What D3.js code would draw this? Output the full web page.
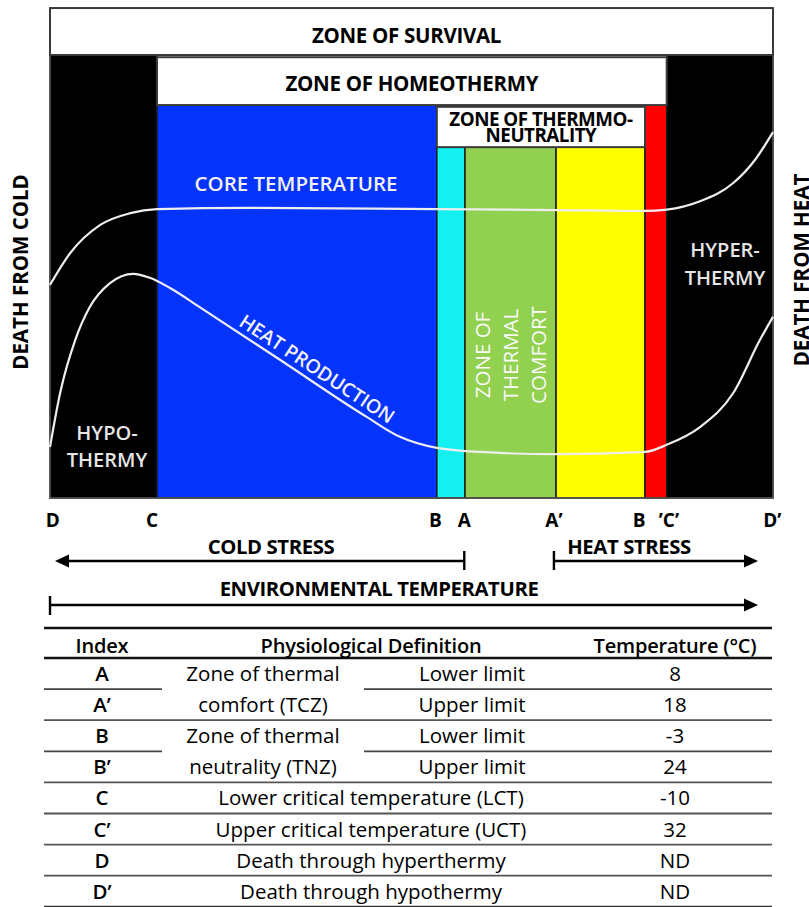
<!DOCTYPE html>
<html>
<head>
<meta charset="utf-8">
<script src="https://cdn.jsdelivr.net/npm/d3@7/dist/d3.min.js"></script>
<style>
  html, body { margin: 0; padding: 0; background: #fff; }
  svg { display: block; font-family: "Open Sans", sans-serif; }
</style>
</head>
<body>
<svg id="chart" width="809" height="907"></svg>
<script>
// ---------------- DATA ----------------
// Position along the environmental-temperature axis (relative units 0..100)
const zoneKeys  = ["hypothermy", "coldStress", "tnzLow", "comfortLow", "comfortHigh", "tnzHigh", "hyperthermy"];
const zoneFrom  = [0,    14.8, 53.5, 57.4, 70.0, 82.3, 85.3];
const zoneTo    = [14.8, 53.5, 57.4, 70.0, 82.3, 85.3, 100];
const zoneTop   = [100,  88.7, 79.2, 79.2, 79.2, 88.7, 100];

// Header bands
const bandLabels = [["ZONE OF SURVIVAL"], ["ZONE OF HOMEOTHERMY"], ["ZONE OF THERMMO-", "NEUTRALITY"]];
const bandFrom   = [0, 14.8, 53.5];
const bandTo     = [100, 85.3, 82.3];
const bandLow    = [100, 88.7, 79.2];
const bandHigh   = [110.6, 99.5, 88.3];

// Curves (x = axis position, y = relative level)
const coreX = [0, 2.8, 6.9, 11.1, 14.8, 27.7, 53.5, 70.0, 82.3, 85.3, 89.9, 94.5, 97.5, 100];
const coreY = [48.1, 55.3, 61.6, 64.3, 65.2, 65.5, 65.2, 65.0, 64.8, 65.1, 67.0, 71.1, 76.3, 82.6];
const heatX = [0, 1.4, 3.5, 5.5, 8.3, 11.5, 13.8, 16.6, 20.7, 31.8, 43.8, 48.4, 53.5, 59.5, 70.0, 82.3, 85.3, 89.9, 94.5, 98.2, 100];
const heatY = [11.5, 23.7, 35.7, 43.1, 48.5, 50.6, 49.7, 47.4, 43.1, 31.2, 18.3, 13.8, 11.3, 10.4, 9.9, 10.4, 12.0, 16.0, 23.7, 35.7, 40.9];

// Axis tick labels
const tickLabels = ["D", "C", "B", "A", "A’", "B", "’C’", "D’"];
const tickPos    = [0.4, 14.1, 53.3, 57.3, 69.7, 81.5, 85.6, 99.9];

// Table
const tableHeader = ["Index", "Physiological Definition", "Temperature (°C)"];
const tableIndex  = ["A", "A’", "B", "B’", "C", "C’", "D", "D’"];
const tableTemp   = ["8", "18", "-3", "24", "-10", "32", "ND", "ND"];
const groupDefs   = [["Zone of thermal", "comfort (TCZ)"], ["Zone of thermal", "neutrality (TNZ)"]];
const limitDefs   = ["Lower limit", "Upper limit", "Lower limit", "Upper limit"];
const singleDefs  = ["Lower critical temperature (LCT)", "Upper critical temperature (UCT)", "Death through hyperthermy", "Death through hypothermy"];

// ---------------- STYLE ----------------
const zoneColor = {hypothermy: "#000000", coldStress: "#0433fb", tnzLow: "#14f0ef", comfortLow: "#92d050",
                   comfortHigh: "#ffff00", tnzHigh: "#ff0000", hyperthermy: "#000000"};
const bandBaselines = [[42.5], [91], [126, 142]];
const bandShift = [-5, 0, 0];

const svg = d3.select("#chart");
const x = d3.scaleLinear().domain([0, 100]).range([50, 773]);
const y = d3.scaleLinear().domain([0, 100]).range([498, 55]);

const g = svg.append("g");

// zones
g.selectAll("rect.zone").data(zoneKeys).join("rect")
  .attr("class", "zone")
  .attr("x", (d, i) => x(zoneFrom[i]))
  .attr("y", (d, i) => y(zoneTop[i]))
  .attr("width", (d, i) => x(zoneTo[i]) - x(zoneFrom[i]))
  .attr("height", (d, i) => y(0) - y(zoneTop[i]))
  .attr("fill", d => zoneColor[d])
  .attr("stroke", "#1a1a1a").attr("stroke-width", 1.5);

// outer border
g.append("rect").attr("x", x(0)).attr("y", y(100)).attr("width", x(100) - x(0)).attr("height", y(0) - y(100))
  .attr("fill", "none").attr("stroke", "#555").attr("stroke-width", 1.5);

// bands
bandLabels.forEach((lines, i) => {
  g.append("rect")
    .attr("x", x(bandFrom[i])).attr("y", y(bandHigh[i]))
    .attr("width", x(bandTo[i]) - x(bandFrom[i])).attr("height", y(bandLow[i]) - y(bandHigh[i]))
    .attr("fill", "#fff").attr("stroke", "#3a3a3a").attr("stroke-width", 2);
  const cx = (x(bandFrom[i]) + x(bandTo[i])) / 2 + bandShift[i];
  const txt = g.append("text").attr("text-anchor", "middle").attr("font-weight", 700)
    .attr("font-size", lines.length === 1 ? 20.5 : 18.8)
    .attr("letter-spacing", lines.length === 1 ? -0.3 : -0.5);
  lines.forEach((t, k) => txt.append("tspan").attr("x", cx).attr("y", bandBaselines[i][k]).text(t));
});

// curves
const line = d3.line().curve(d3.curveMonotoneX).x(d => x(d[0])).y(d => y(d[1]));
g.append("path").datum(d3.zip(coreX, coreY)).attr("d", line)
  .attr("fill", "none").attr("stroke", "#eeeeee").attr("stroke-width", 2.2);
g.append("path").datum(d3.zip(heatX, heatY)).attr("d", line)
  .attr("fill", "none").attr("stroke", "#eeeeee").attr("stroke-width", 2.2);

// in-chart labels
const white = "#f2f2f2";
g.append("text").attr("x", 296).attr("y", 191).attr("text-anchor", "middle")
  .attr("font-size", 20.5).attr("font-weight", 600).attr("fill", white).text("CORE TEMPERATURE");

// heat production label along line
{
  const p0 = [x(heatX[8]), y(heatY[8])], p1 = [x(heatX[10]), y(heatY[10])];
  const ang = Math.atan2(p1[1] - p0[1], p1[0] - p0[0]);
  const px = 310, py = p0[1] + (px - p0[0]) * Math.tan(ang);
  const off = 6;
  const tx = px + off * Math.sin(ang), ty = py - off * Math.cos(ang);
  g.append("text").attr("transform", `translate(${tx},${ty}) rotate(${ang * 180 / Math.PI})`)
    .attr("text-anchor", "middle").attr("font-size", 19.3).attr("font-weight", 600)
    .attr("fill", white).text("HEAT PRODUCTION");
}

[["HYPO-", 440], ["THERMY", 467]].forEach(([t, yy]) =>
  g.append("text").attr("x", 107).attr("y", yy).attr("text-anchor", "middle")
    .attr("font-size", 20).attr("font-weight", 600).attr("fill", "#e6e6e6").text(t));
[["HYPER-", 257], ["THERMY", 285]].forEach(([t, yy]) =>
  g.append("text").attr("x", 725).attr("y", yy).attr("text-anchor", "middle")
    .attr("font-size", 20).attr("font-weight", 600).attr("fill", "#e6e6e6").text(t));

[["ZONE OF", 490], ["THERMAL", 518], ["COMFORT", 546]].forEach(([t, xx]) =>
  g.append("text").attr("transform", `translate(${xx},355) rotate(-90)`).attr("text-anchor", "middle")
    .attr("font-size", 20.5).attr("font-weight", 500).attr("fill", "#fafafa").text(t));

// side labels
g.append("text").attr("transform", "translate(28,272) rotate(-90)").attr("text-anchor", "middle")
  .attr("font-size", 20.5).attr("font-weight", 700).text("DEATH FROM COLD");
g.append("text").attr("transform", "translate(808.5,270) rotate(-90)").attr("text-anchor", "middle")
  .attr("font-size", 20.5).attr("font-weight", 700).text("DEATH FROM HEAT");

// tick labels
g.selectAll("text.tick").data(tickLabels).join("text").attr("class", "tick")
  .attr("x", (d, i) => x(tickPos[i])).attr("y", 527).attr("text-anchor", "middle")
  .attr("font-size", 19).attr("font-weight", 700).text(d => d);

// arrows
function arrowHead(tipX, yy, dir) {
  g.append("path").attr("d", `M${tipX},${yy} L${tipX - dir * 14},${yy - 6.5} L${tipX - dir * 14},${yy + 6.5} Z`).attr("fill", "#000");
}
function hline(x1, x2, yy) {
  g.append("line").attr("x1", x1).attr("x2", x2).attr("y1", yy).attr("y2", yy).attr("stroke", "#000").attr("stroke-width", 2.6);
}
function vtick(xx, y1, y2) {
  g.append("line").attr("x1", xx).attr("x2", xx).attr("y1", y1).attr("y2", y2).attr("stroke", "#000").attr("stroke-width", 2.4);
}
hline(62, x(57.3), 561); arrowHead(55, 561, -1); vtick(x(57.3), 551, 570);
hline(x(69.7), 750, 561); arrowHead(758, 561, 1); vtick(x(69.7), 551, 570);
hline(50, 750, 605); arrowHead(758, 605, 1); vtick(50, 596, 615);
const arrowLabel = (tx, ty, s) => g.append("text").attr("x", tx).attr("y", ty).attr("text-anchor", "middle")
  .attr("font-size", 20.3).attr("font-weight", 700).attr("letter-spacing", -0.4).text(s);
arrowLabel(271, 553.5, "COLD STRESS");
arrowLabel(629, 553.5, "HEAT STRESS");
arrowLabel(379, 596, "ENVIRONMENTAL TEMPERATURE");

// ---------------- TABLE ----------------
const tL = 44, tR = 772, tTop = 628, hdrBot = 658, rowH = 31.1;
const colIdx = 102, colDef = 371, colGrp = 263, colLim = 472, colTmp = 675;
const t = svg.append("g").attr("font-size", 20.5);
function tline(x1, x2, yy, w, c) {
  t.append("line").attr("x1", x1).attr("x2", x2).attr("y1", yy).attr("y2", yy).attr("stroke", c).attr("stroke-width", w);
}
tline(tL, tR, tTop, 2.4, "#111");
tline(tL, tR, hdrBot, 2.4, "#111");
[colIdx, colDef, colTmp].forEach((cx, i) =>
  t.append("text").attr("x", cx).attr("y", 653).attr("text-anchor", "middle").attr("font-weight", 600)
    .attr("font-size", 20).attr("letter-spacing", -0.2).text(tableHeader[i]));
const rowBase = i => hdrBot + rowH * i + rowH / 2 + 7.5;
tableIndex.forEach((d, i) => {
  t.append("text").attr("x", colIdx).attr("y", rowBase(i)).attr("text-anchor", "middle").attr("font-weight", 600).text(d);
  t.append("text").attr("x", colTmp).attr("y", rowBase(i)).attr("text-anchor", "middle").text(tableTemp[i]);
  const yl = hdrBot + rowH * (i + 1);
  if (i === 0 || i === 2) {
    tline(tL, 162, yl, 1.8, "#444");
    tline(364, tR, yl, 1.8, "#444");
  } else {
    tline(tL, tR, yl, i === 7 ? 2.2 : 1.8, i === 7 ? "#333" : "#555");
  }
});
groupDefs.forEach((pair, gi) => pair.forEach((txt, k) =>
  t.append("text").attr("x", colGrp).attr("y", rowBase(gi * 2 + k)).attr("text-anchor", "middle").text(txt)));
limitDefs.forEach((d, i) =>
  t.append("text").attr("x", colLim).attr("y", rowBase(i)).attr("text-anchor", "middle").text(d));
singleDefs.forEach((d, i) =>
  t.append("text").attr("x", colDef).attr("y", rowBase(i + 4)).attr("text-anchor", "middle").text(d));
</script>
</body>
</html>
